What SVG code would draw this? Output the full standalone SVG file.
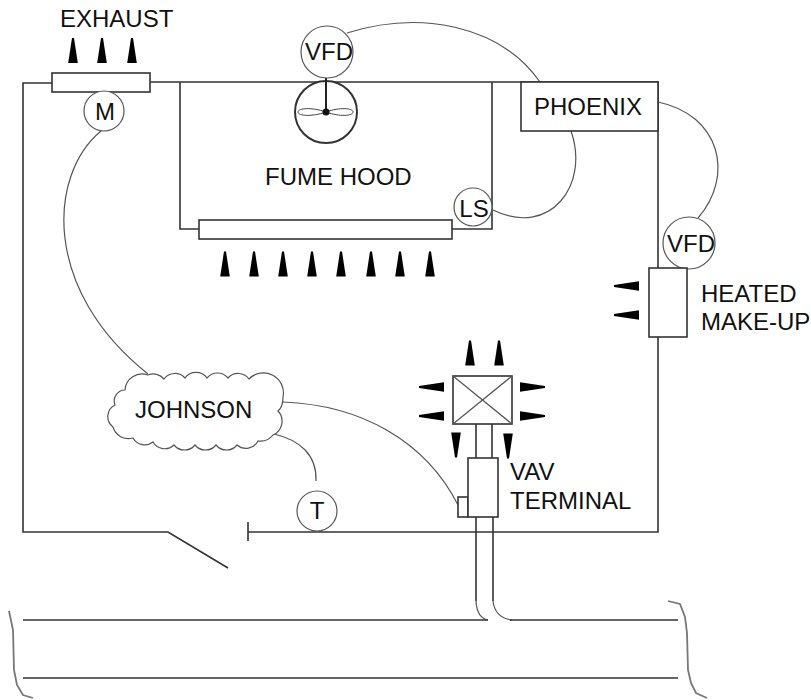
<svg xmlns="http://www.w3.org/2000/svg" width="811" height="700" viewBox="0 0 811 700">
<style>
text{font-family:"Liberation Sans",Arial,sans-serif;font-size:24px;fill:#111}
.m{text-anchor:middle}
.l{fill:none;stroke:#333;stroke-width:1.6}
.t{fill:none;stroke:#555;stroke-width:1.2}
.b{fill:#fff;stroke:#333;stroke-width:1.6}
.c{fill:#fff;stroke:#555;stroke-width:1.2}
.a{fill:#000}
.br{fill:none;stroke:#777;stroke-width:1.8}
</style>
<defs>
<polygon id="up" class="a" points="-1,-12.500 1,-12.500 4.800,12.500 -4.800,12.500"/>
<polygon id="dn" class="a" points="-1,12.500 1,12.500 4.800,-12.500 -4.800,-12.500"/>
<polygon id="lf" class="a" points="-12.500,-1 -12.500,1 12.500,4.800 12.500,-4.800"/>
<polygon id="rt" class="a" points="12.500,-1 12.500,1 -12.500,4.800 -12.500,-4.800"/>
</defs>
<g id="connectors">
<path class="l" d="M52 83H23V532H168L228 568"/>
<path class="l" d="M248 522V541M248 532H658V337M658 268V82H150"/>
<path class="l" d="M180 82V229H199M492 82V229H452"/>
<path class="l" d="M476 424V458M492 424V458"/>
<path class="l" d="M476 517V601M493 517V601"/>
<path class="t" d="M476 601Q477 618 488 620M493 601Q495 618 512 620"/>
<path class="l" d="M23 620H488M510 620H678M23 678H678"/>
<path class="t" d="M101 131C48 175 42 290 148 374"/>
<path class="t" d="M347 33C420 10 500 25 540 82"/>
<path class="t" d="M571 131C590 185 550 238 493 210"/>
<path class="t" d="M658 102C720 115 735 175 698 218"/>
<path class="t" d="M283 402C360 405 425 440 458 505"/>
<path class="t" d="M274 434C300 440 317 455 316 481"/>
<path class="br" d="M9 611L13 630L14 670L17 685L23 695L33 698"/>
<path class="br" d="M668 601L680 604L685 617L687 633L688 670L691 683L696 693L707 698"/>
</g>
<g id="exhaust"><rect class="b" x="52" y="73" width="98" height="19"/>
<use href="#up" x="73" y="50.500"/><use href="#up" x="102" y="50.500"/><use href="#up" x="132" y="50.500"/>
<text x="60" y="27">EXHAUST</text></g>
<g id="damper-motor"><circle class="c" cx="104" cy="111" r="20"/><text class="m" x="105" y="120">M</text></g>
<g id="fan"><circle cx="326" cy="112" r="31" fill="#fff" stroke="#333" stroke-width="2"/>
<path d="M326 76V112" stroke="#222" stroke-width="2" fill="none"/>
<path d="M326 112C312 107 298 108 298 112C298 116 312 117 326 112C340 107 353 108 353 112C353 116 340 117 326 112Z" fill="none" stroke="#444" stroke-width="1"/>
<circle cx="326" cy="112" r="3.500" fill="#111"/></g>
<g id="vfd-fan"><circle class="c" cx="327" cy="52" r="26"/><text x="305" y="60">VFD</text></g>
<g id="fume-hood"><rect class="b" x="199" y="220" width="253" height="19"/>
<use href="#up" x="225" y="264"/><use href="#up" x="254" y="264"/><use href="#up" x="283" y="264"/><use href="#up" x="312" y="264"/><use href="#up" x="341" y="264"/><use href="#up" x="371" y="264"/><use href="#up" x="400" y="264"/><use href="#up" x="430" y="264"/>
<text x="265" y="185">FUME HOOD</text></g>
<g id="ls"><circle class="c" cx="473" cy="207" r="19"/><text class="m" x="474" y="217">LS</text></g>
<g id="phoenix"><rect class="b" x="521" y="82" width="137" height="49" stroke-width="1.4"/><text x="534" y="115">PHOENIX</text></g>
<g id="vfd-makeup"><circle class="c" cx="689" cy="243" r="26"/><text x="667" y="252">VFD</text></g>
<g id="make-up"><rect class="b" x="649" y="268" width="38" height="69"/>
<use href="#lf" x="626.500" y="286"/><use href="#lf" x="626.500" y="315"/>
<text x="701" y="302">HEATED</text><text x="701" y="330">MAKE-UP</text></g>
<g id="johnson"><path fill="#fff" stroke="#555" stroke-width="1.200" d="M148 375A14 14 0 0 1 164 379A13.500 13.500 0 0 1 185 378A13.500 13.500 0 0 1 207 378A13.500 13.500 0 0 1 228 378A13.500 13.500 0 0 1 249 379A20 20 0 0 1 283 397Q283 407 278 411A15 15 0 0 1 273 435A16 16 0 0 1 258 441A13.500 13.500 0 0 1 237 445A13.500 13.500 0 0 1 216 445A13.500 13.500 0 0 1 195 445A13.500 13.500 0 0 1 174 445A13.500 13.500 0 0 1 153 442A13.500 13.500 0 0 1 133 438A16 16 0 0 1 113 427A13 13 0 0 1 115 405A11 11 0 0 1 125 390A17 17 0 0 1 148 375Z"/>
<text x="135" y="418">JOHNSON</text></g>
<g id="t"><circle class="c" cx="317" cy="511" r="20"/><text class="m" x="317" y="519">T</text></g>
<g id="diffuser"><rect class="b" x="453" y="376" width="59" height="48" stroke="#777"/>
<path class="t" d="M453 376L512 424M512 376L453 424"/>
<use href="#up" x="470" y="353"/><use href="#up" x="499" y="353"/>
<use href="#lf" x="431.500" y="387"/><use href="#lf" x="431.500" y="416"/>
<use href="#rt" x="532.500" y="387"/><use href="#rt" x="532.500" y="416"/>
<use href="#dn" x="456" y="445"/><use href="#dn" x="508" y="446"/></g>
<g id="vav"><rect class="b" x="458" y="497" width="10" height="20"/><rect class="b" x="468" y="458" width="30" height="59"/>
<text x="510" y="480">VAV</text><text x="510" y="509">TERMINAL</text></g>
</svg>
